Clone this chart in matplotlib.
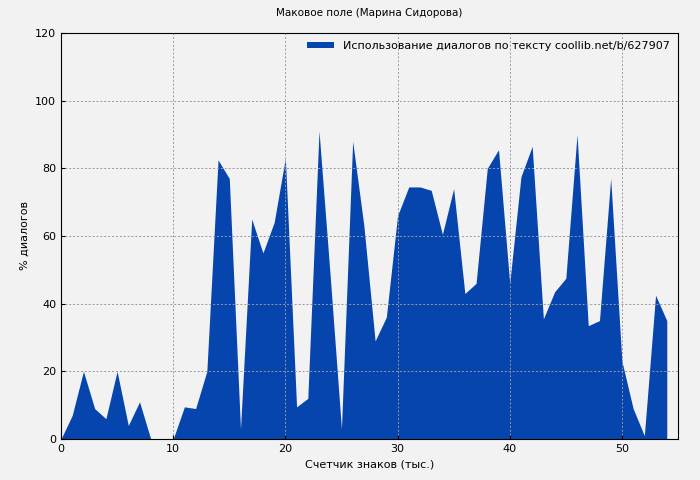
import matplotlib
matplotlib.use("Agg")
import matplotlib.pyplot as plt

x = list(range(55))
values = [0, 7, 20, 9, 6, 20, 4, 11, 0, 0, 0, 9.5, 9, 20, 82.5, 77, 3, 65, 55, 64,
          83, 9.5, 12, 91, 48, 3, 88, 63, 29, 36, 66, 74.5, 74.5, 73.5, 60.5, 74, 43, 46, 80, 85.5,
          46, 77.5, 86.5, 35.5, 43.5, 47.5, 90, 33.5, 35, 77, 23, 9, 1, 42.5, 35]

fig = plt.figure(figsize=(7, 4.8), dpi=100, facecolor="#f2f2f2")
ax = fig.add_axes([61/700, 41/480, 617/700, 406/480])
ax.set_facecolor("#f2f2f2")
ax.fill_between(x, values, 0, color="#0645ad", lw=0,
                label="Использование диалогов по тексту coollib.net/b/627907")
ax.set_xlim(0, 55)
ax.set_ylim(0, 120)
ax.set_xticks([0, 10, 20, 30, 40, 50])
ax.set_yticks(range(0, 121, 20))
ax.grid(True, color="#999999", ls=(0, (2, 2)), lw=0.7)
ax.tick_params(labelsize=8, direction="in", length=3)
ax.set_xlabel("Счетчик знаков (тыс.)", fontsize=8)
ax.set_ylabel("% диалогов", fontsize=8)
ax.set_title("Маковое поле (Марина Сидорова)", fontsize=7.5, pad=12)
ax.legend(loc="upper right", frameon=False, fontsize=8, handlelength=2.5, handleheight=0.5,
          borderaxespad=0.3)
fig.savefig("out.png", dpi=100, facecolor=fig.get_facecolor())
